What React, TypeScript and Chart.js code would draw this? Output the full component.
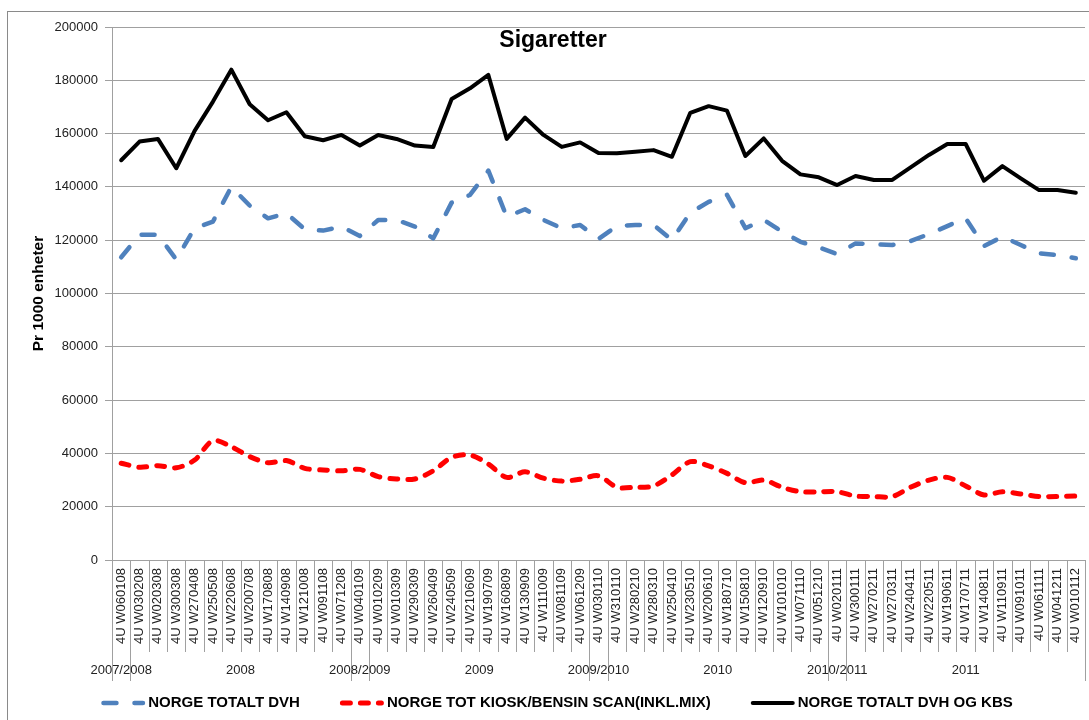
import React, { useEffect, useRef } from "react";
import { Chart, registerables } from "chart.js";

Chart.register(...registerables);

const TITLE = "Sigaretter";
const Y_TITLE = "Pr 1000 enheter";

const categories = [
  "4U W060108", "4U W030208", "4U W020308", "4U W300308", "4U W270408", "4U W250508",
  "4U W220608", "4U W200708", "4U W170808", "4U W140908", "4U W121008", "4U W091108",
  "4U W071208", "4U W040109", "4U W010209", "4U W010309", "4U W290309", "4U W260409",
  "4U W240509", "4U W210609", "4U W190709", "4U W160809", "4U W130909", "4U W111009",
  "4U W081109", "4U W061209", "4U W030110", "4U W310110", "4U W280210", "4U W280310",
  "4U W250410", "4U W230510", "4U W200610", "4U W180710", "4U W150810", "4U W120910",
  "4U W101010", "4U W071110", "4U W051210", "4U W020111", "4U W300111", "4U W270211",
  "4U W270311", "4U W240411", "4U W220511", "4U W190611", "4U W170711", "4U W140811",
  "4U W110911", "4U W091011", "4U W061111", "4U W041211", "4U W010112",
];

const groupLabels = ["2007/2008", "2008", "2008/2009", "2009", "2009/2010", "2010", "2010/2011", "2011"];
const groupStarts = [0, 1, 13, 14, 26, 27, 39, 40];

const seriesNames = [
  "NORGE TOTALT DVH",
  "NORGE TOT KIOSK/BENSIN SCAN(INKL.MIX)",
  "NORGE TOTALT DVH OG KBS",
];

const totalDvh = [
  113600, 122000, 122000, 112800, 124500, 127000, 140000, 133000, 128200, 130100,
  124100, 123600, 125100, 121600, 127600, 127600, 125100, 120700, 134100, 137000,
  146100, 128800, 131600, 127600, 124500, 125700, 120500, 125300, 125700, 125700,
  120100, 130300, 134400, 137000, 124500, 127600, 123200, 119400, 117300, 114800,
  118800, 118500, 118200, 119700, 122300, 125300, 128200, 117800, 121300, 118200,
  115100, 114400, 113200,
];

const kioskBensin = [
  36300, 34800, 35400, 34600, 37500, 44800, 42500, 38800, 36500, 37300,
  34400, 33800, 33500, 34000, 31300, 30400, 30400, 33500, 38500, 39400,
  36000, 31000, 33100, 30700, 29600, 30300, 31600, 27300, 27300, 27800,
  31900, 36900, 35300, 32500, 29000, 30000, 27300, 25600, 25600, 25600,
  24000, 23800, 23800, 27300, 30000, 31000, 27800, 24400, 25600, 24800,
  23800, 23800, 24000,
];

const totalDvhKbs = [
  150000, 157000, 158000, 147000, 161000, 172000, 184000, 171000, 165000, 168000,
  159000, 157500, 159500, 155500, 159500, 158000, 155500, 155000, 173000, 177000,
  182000, 158000, 166000, 159500, 155000, 156700, 152700, 152600, 153200, 153800,
  151300, 167800, 170300, 168600, 151600, 158200, 149800, 144700, 143600, 140700,
  144100, 142600, 142600, 147300, 152000, 156100, 156100, 142300, 147800, 143200,
  138800, 138800, 137800,
];

const seriesColors = ["#4F81BD", "#FF0000", "#000000"];
const FONT = '"Liberation Sans", Arial, sans-serif';

const decorPlugin = {
  id: "decor",
  afterDraw(chart: any) {
    const ctx: CanvasRenderingContext2D = chart.ctx;
    const xs = chart.scales.x;
    const area = chart.chartArea;
    ctx.save();

    // outer chart border
    ctx.strokeStyle = "#8a8a8a";
    ctx.lineWidth = 1;
    ctx.strokeRect(7.5, 11.5, 1200, 1000);

    // title
    ctx.fillStyle = "#000";
    ctx.font = `bold 23px ${FONT}`;
    ctx.textAlign = "center";
    ctx.textBaseline = "middle";
    ctx.fillText(TITLE, 553, 41);

    // category separators below axis
    const n = categories.length;
    const half = (xs.getPixelForValue(1) - xs.getPixelForValue(0)) / 2;
    ctx.strokeStyle = "#a0a0a0";
    ctx.lineWidth = 1;
    for (let k = 0; k <= n; k++) {
      const px = k < n ? xs.getPixelForValue(k) - half : xs.getPixelForValue(n - 1) + half;
      const isGroup = groupStarts.includes(k) || k === n;
      const bottom = isGroup ? area.bottom + 121 : area.bottom + 92;
      const xx = Math.round(px) + 0.5;
      ctx.beginPath();
      ctx.moveTo(xx, area.bottom);
      ctx.lineTo(xx, bottom);
      ctx.stroke();
    }

    // group labels
    ctx.fillStyle = "#222";
    ctx.font = `13px ${FONT}`;
    ctx.textAlign = "center";
    ctx.textBaseline = "middle";
    for (let g = 0; g < groupLabels.length; g++) {
      const s = groupStarts[g];
      const e = g + 1 < groupStarts.length ? groupStarts[g + 1] - 1 : n - 1;
      const cx = (xs.getPixelForValue(s) + xs.getPixelForValue(e)) / 2;
      ctx.fillText(groupLabels[g], cx, area.bottom + 110);
    }

    // legend
    ctx.font = `bold 15px ${FONT}`;
    const sampleW = 44;
    const textGap = 3;
    const itemGap = 40;
    const widths = seriesNames.map((t) => ctx.measureText(t).width);
    const total = widths.reduce((a, b) => a + b, 0) + seriesNames.length * (sampleW + textGap) + itemGap * (seriesNames.length - 1);
    let lx = 557 - total / 2;
    const ly = 703;
    const datasets = chart.data.datasets;
    for (let i = 0; i < seriesNames.length; i++) {
      const ds = datasets[i];
      ctx.save();
      ctx.strokeStyle = ds.borderColor;
      ctx.lineWidth = ds.borderWidth;
      ctx.lineCap = ds.borderCapStyle || "butt";
      ctx.setLineDash(ds.borderDash || []);
      ctx.beginPath();
      const cap = ds.borderCapStyle === "round" ? ds.borderWidth / 2 : 0;
      ctx.moveTo(lx + cap, ly);
      ctx.lineTo(lx + sampleW - cap, ly);
      ctx.stroke();
      ctx.restore();
      ctx.fillStyle = "#000";
      ctx.textAlign = "left";
      ctx.textBaseline = "middle";
      ctx.fillText(seriesNames[i], lx + sampleW + textGap, ly);
      lx += sampleW + textGap + widths[i] + itemGap;
    }

    ctx.restore();
  },
};

export default function App() {
  const ref = useRef<HTMLCanvasElement | null>(null);

  useEffect(() => {
    if (!ref.current) return;
    const chart = new Chart(ref.current, {
      type: "line",
      data: {
        labels: categories,
        datasets: [
          {
            label: seriesNames[0],
            data: totalDvh,
            borderColor: seriesColors[0],
            backgroundColor: seriesColors[0],
            borderWidth: 4.5,
            borderDash: [13, 18],
            borderCapStyle: "round",
            borderJoinStyle: "round",
            pointRadius: 0,
            tension: 0,
            fill: false,
          },
          {
            label: seriesNames[1],
            data: kioskBensin,
            borderColor: seriesColors[1],
            backgroundColor: seriesColors[1],
            borderWidth: 5,
            borderDash: [8, 10],
            borderCapStyle: "round",
            borderJoinStyle: "round",
            pointRadius: 0,
            tension: 0.3,
            fill: false,
          },
          {
            label: seriesNames[2],
            data: totalDvhKbs,
            borderColor: seriesColors[2],
            backgroundColor: seriesColors[2],
            borderWidth: 4,
            borderJoinStyle: "round",
            borderCapStyle: "round",
            pointRadius: 0,
            tension: 0,
            fill: false,
          },
        ] as any,
      },
      options: {
        animation: false,
        responsive: false,
        maintainAspectRatio: false,
        layout: { padding: { left: 0, top: 27, right: 4, bottom: 0 } },
        plugins: {
          legend: { display: false },
          title: { display: false },
          tooltip: { enabled: false },
        },
        scales: {
          x: {
            type: "category",
            offset: true,
            grid: { display: false, drawTicks: false },
            border: { display: true, color: "#a0a0a0", width: 1 },
            ticks: {
              autoSkip: false,
              minRotation: 90,
              maxRotation: 90,
              padding: 8,
              color: "#222",
              font: { family: FONT, size: 13 },
            },
            afterFit: (s: any) => {
              s.height = 160;
              s.paddingLeft = 0;
              s.paddingRight = 0;
            },
          },
          y: {
            min: 0,
            max: 200000,
            grid: { color: "#a0a0a0", lineWidth: 1, tickLength: 7, drawTicks: true },
            border: { display: true, color: "#a0a0a0", width: 1 },
            ticks: {
              stepSize: 20000,
              padding: 7,
              color: "#222",
              font: { family: FONT, size: 13 },
              callback: (v: any) => String(v),
            },
            title: {
              display: true,
              text: Y_TITLE,
              color: "#000",
              font: { family: FONT, size: 15.5, weight: "bold" },
              padding: { top: 29, bottom: 0 },
            },
            afterFit: (s: any) => {
              s.width = 112;
              s.paddingTop = 0;
              s.paddingBottom = 0;
            },
          },
        },
      } as any,
      plugins: [decorPlugin],
    });
    return () => chart.destroy();
  }, []);

  return (
    <div style={{ position: "fixed", left: 0, top: 0, width: 1089, height: 720, background: "#fff" }}>
      <canvas ref={ref} width={1089} height={720} style={{ display: "block", width: 1089, height: 720 }} />
    </div>
  );
}
